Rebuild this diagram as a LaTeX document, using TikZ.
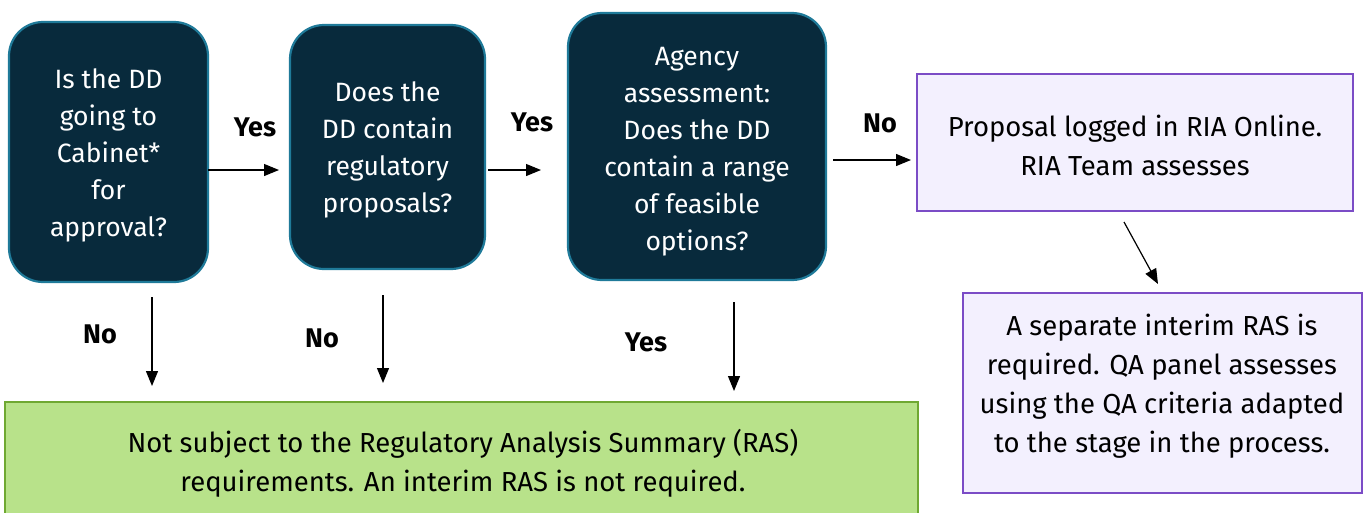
\documentclass[tikz,border=0pt]{standalone}
\usepackage{fontspec}
\setmainfont{Fira Sans}
\usetikzlibrary{arrows.meta}
\definecolor{navy}{HTML}{082A3C}
\definecolor{teal}{HTML}{1F7A99}
\definecolor{lav}{HTML}{F3F0FE}
\definecolor{lavline}{HTML}{7B4CC6}
\definecolor{leaf}{HTML}{B8E28A}
\definecolor{leafline}{HTML}{6FA832}
\tikzset{
  question/.style={draw=teal, line width=2.2pt, fill=navy, rounded corners=34pt},
  note/.style={draw=lavline, line width=2.6pt, fill=lav},
  outcome/.style={draw=leafline, line width=2.4pt, fill=leaf},
  qtext/.style={text=white, align=center, font=\fontsize{26.5pt}{37pt}\selectfont},
  ntext/.style={text=black, align=center, font=\fontsize{27.5pt}{39pt}\selectfont},
  lbl/.style={font=\bfseries\fontsize{27pt}{30pt}\selectfont},
  flow/.style={line width=1.2pt, -{Triangle[length=15pt,width=12pt]}},
}
\begin{document}
\begin{tikzpicture}[x=1pt, y=-1pt]
\useasboundingbox (0,0) rectangle (1365,512);
\begin{scope}
\clip (0,0) rectangle (1365,512);
% decision boxes
\draw[question] (9,22) rectangle (208,282);
\node[qtext] (q1) at (108.5,155) {Is the DD\\going to\\Cabinet*\\for\\approval?};
\draw[question] (290,25) rectangle (485,269);
\node[qtext] (q2) at (387.5,150) {Does the\\DD contain\\regulatory\\proposals?};
\draw[question] (568,13) rectangle (826,280);
\node[qtext] (q3) at (697,152) {Agency\\assessment:\\Does the DD\\contain a range\\of feasible\\options?};
% outcome boxes
\draw[note] (917,74) rectangle (1353,211);
\node[ntext] (n1) at (1135,145) {Proposal logged in RIA Online.\\RIA Team assesses};
\draw[note] (963,293) rectangle (1362,493);
\node[ntext] (n2) at (1162,386) {A separate interim RAS is\\required. QA panel assesses\\using the QA criteria adapted\\to the stage in the process.};
\draw[outcome] (5,402) rectangle (918,530);
\node[ntext] (g) at (463,463) {Not subject to the Regulatory Analysis Summary (RAS)\\requirements. An interim RAS is not required.};
\end{scope}
% connector end points
\coordinate (a1s) at (208,170); \coordinate (a1e) at (279,170);
\coordinate (a2s) at (488,170); \coordinate (a2e) at (541,170);
\coordinate (a3s) at (833,160); \coordinate (a3e) at (911,160);
\coordinate (a4s) at (1124,222); \coordinate (a4e) at (1158,284);
\coordinate (d1s) at (152,297); \coordinate (d1e) at (152,386);
\coordinate (d2s) at (383,295); \coordinate (d2e) at (383,383);
\coordinate (d3s) at (734,302); \coordinate (d3e) at (734,391);
\draw[flow] (a1s) -- (a1e);
\draw[flow] (a2s) -- (a2e);
\draw[flow] (a3s) -- (a3e);
\draw[flow] (a4s) -- (a4e);
\draw[flow] (d1s) -- (d1e);
\draw[flow] (d2s) -- (d2e);
\draw[flow] (d3s) -- (d3e);
% branch labels
\node[lbl] (y1) at (255,127) {Yes};
\node[lbl] (y2) at (532,122) {Yes};
\node[lbl] (n3) at (880,123) {No};
\node[lbl] (nd1) at (100,334) {No};
\node[lbl] (nd2) at (322,338) {No};
\node[lbl] (yd3) at (646,342) {Yes};
\end{tikzpicture}
\end{document}
